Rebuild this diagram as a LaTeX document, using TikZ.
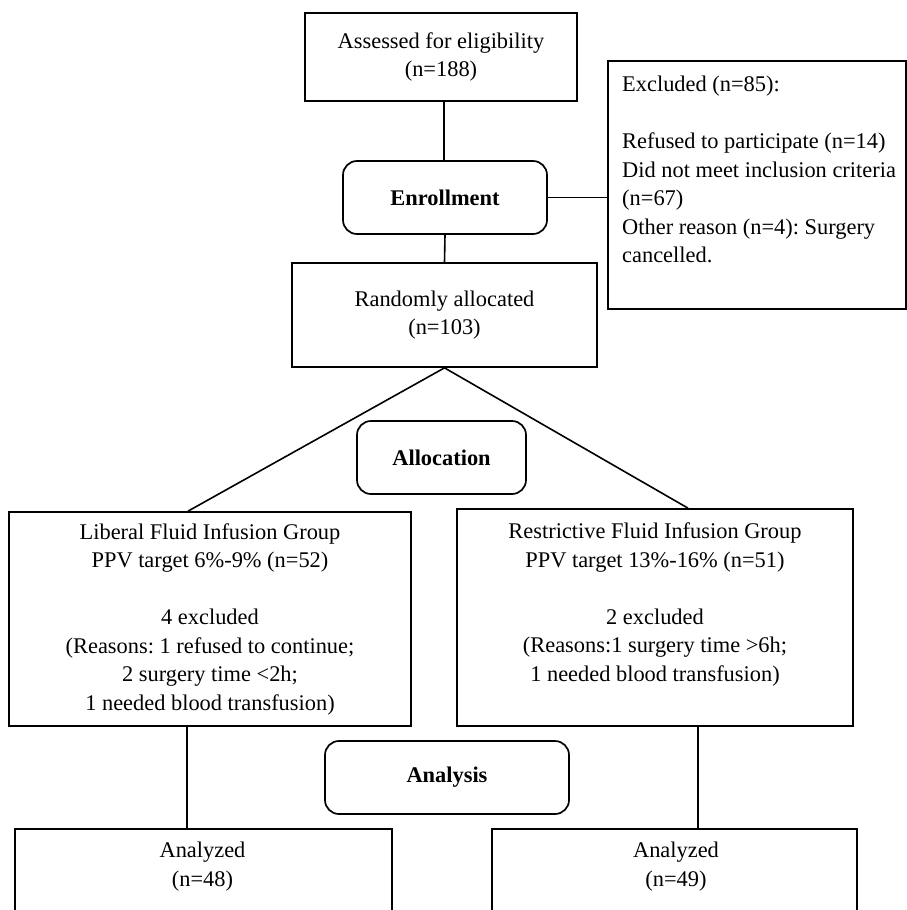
\documentclass[tikz,border=0pt]{standalone}
\usepackage{fontspec}
\setmainfont{Liberation Serif}
\newcommand{\fsz}{\fontsize{22.4pt}{28.5pt}\selectfont\frenchspacing}
\begin{document}
\begin{tikzpicture}[x=1pt,y=-1pt,
  box/.style={draw, line width=1.7pt, inner sep=0pt, align=center, font=\fsz},
  rbox/.style={box, rounded corners=14pt, font=\fsz\bfseries},
  txt/.style={inner sep=0pt, font=\fsz},
  link/.style={line width=1.6pt}]
\clip (0,0) rectangle (907,910);
\fill[white] (0,0) rectangle (907,910);

\node[box, minimum width=272, minimum height=88] (assess) at (441,57) {Assessed for eligibility\\(n=188)};
\node[box, anchor=north west, minimum width=298, minimum height=248] (excl) at (607,60) {};
\node[txt, anchor=north west, align=left] (excltext) at (622,76) {Excluded (n=85):\\[28.5pt]Refused to participate (n=14)\\Did not meet inclusion criteria\\(n=67)\\Other reason (n=4): Surgery\\cancelled.};
\node[rbox, minimum width=204, minimum height=73] (enroll) at (445,197.5) {Enrollment};
\node[box, minimum width=305, minimum height=104] (random) at (444.5,315) {Randomly allocated\\(n=103)};
\node[rbox, minimum width=169, minimum height=73] (alloc) at (441.5,457.5) {Allocation};
\node[box, minimum width=402, minimum height=214] (lib) at (210,619) {Liberal Fluid Infusion Group\\PPV target 6\%-9\% (n=52)\\[28.5pt]4 excluded\\(Reasons: 1 refused to continue;\\2 surgery time <2h;\\1 needed blood transfusion)};
\node[box, minimum width=396, minimum height=217] (restr) at (655,617.5) {};
\node[txt, anchor=north, align=center] (restrtext) at (655,523) {Restrictive Fluid Infusion Group\\PPV target 13\%-16\% (n=51)\\[28.5pt]2 excluded\\(Reasons:1 surgery time >6h;\\1 needed blood transfusion)};
\node[rbox, minimum width=244, minimum height=73] (analysis) at (447,777.5) {Analysis};
\node[box, anchor=north west, minimum width=377, minimum height=100] (anl) at (14,828) {};
\node[txt, anchor=north, align=center] (anltext) at (202.5,842) {Analyzed\\(n=48)};
\node[box, anchor=north west, minimum width=365, minimum height=100] (anr) at (491,828) {};
\node[txt, anchor=north, align=center] (anrtext) at (676,842) {Analyzed\\(n=49)};

\draw[link] (enroll.north) ++(-1,0) coordinate (et) (assess.south -| et) -- (et);
\draw[link] (enroll.south) -- (random.north);
\draw[link] (enroll.east) -- (enroll.east -| excl.west);
\draw[link] (random.south) -- ([xshift=-22pt]lib.north);
\draw[link] (random.south) -- ([xshift=33pt]restr.north);
\draw[link] ([xshift=-23pt]lib.south) coordinate (ls) -- (ls |- anl.north);
\draw[link] ([xshift=43pt]restr.south) coordinate (rs) -- (rs |- anr.north);
\end{tikzpicture}
\end{document}
